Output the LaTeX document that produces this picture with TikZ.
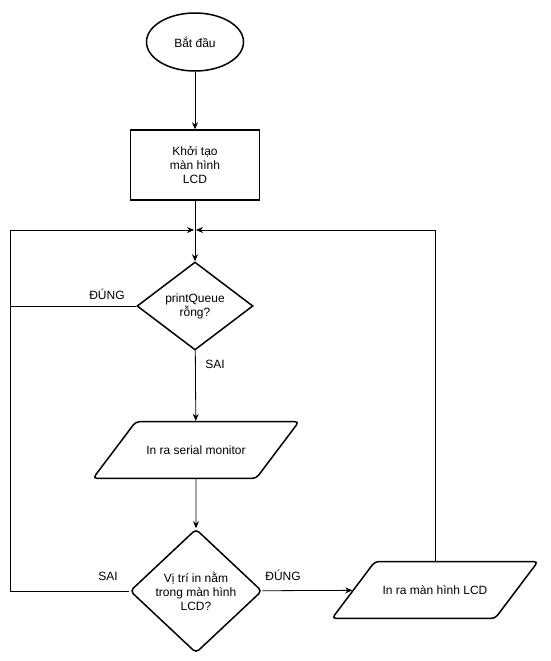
\documentclass[tikz,border=0pt]{standalone}
\usepackage{fontspec}
\setmainfont{Liberation Sans}
\usetikzlibrary{shapes.geometric,arrows.meta}

\begin{document}
\begin{tikzpicture}
[
    x=1pt, y=-1pt,
    every node/.style={font=\fontsize{12}{14}\selectfont, align=center, inner sep=0},
    startstop/.style={draw, ellipse, line width=1.5pt, minimum width=97, minimum height=58},
    process/.style={draw, rectangle, line width=1.5pt, minimum width=129, minimum height=70},
    decision/.style={draw, diamond, line width=1.5pt, minimum width=116, minimum height=88},
    io/.style={draw, trapezium, trapezium left angle=53, trapezium right angle=127,
        trapezium stretches body=true, rounded corners=4pt, line width=1.5pt,
        inner ysep=24pt, minimum width=206},
    flow/.style={draw, line width=0.8pt, -{Stealth[length=7pt,width=6pt]}},
    line/.style={draw, line width=0.8pt},
]
\useasboundingbox (0,0) rectangle (551,661);
% shapes
\node [startstop] (start) at (195,42) {Bắt đầu};
\node [process] (init) at (195,165) {Khởi tạo\\màn hình\\LCD};
\node [decision] (empty) at (195,306) {printQueue\\rỗng?};
\node [io] (serial) at (196,450) {In ra serial monitor};
\node [decision, rounded corners=4pt, minimum width=132, minimum height=124] (inlcd) at (196,591) {Vị trí in nằm\\trong màn hình\\LCD?};
\node [io] (lcd) at (435,590) {In ra màn hình LCD};
% rails
\coordinate (mergeL) at (194,230);
\coordinate (mergeR) at (196,230);
\coordinate (leftrail) at (10,230);
% connectors
\draw [flow] (start) -- (init);
\draw [flow] (init) -- (empty);
\draw [flow] (empty.west) -| (leftrail) -- (mergeL);
\draw [flow] (empty) -- (serial);
\draw [flow] (serial) -- (inlcd);
\draw [line] (inlcd.west) -| (leftrail);
\draw [flow] (inlcd) -- (lcd);
\draw [flow] (lcd.north) |- (mergeR);
% labels
\node (yes1) at (107,294) {ĐÚNG};
\node (no1) at (215,364) {SAI};
\node (no2) at (108,576) {SAI};
\node (yes2) at (283,575) {ĐÚNG};
\end{tikzpicture}
\end{document}
